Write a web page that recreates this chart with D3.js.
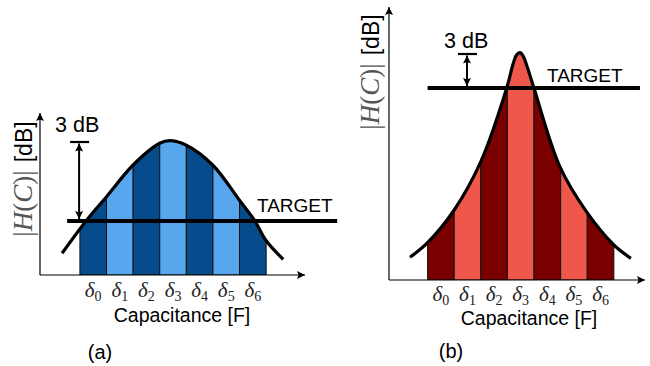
<!DOCTYPE html>
<html>
<head>
<meta charset="utf-8">
<script src="https://cdn.jsdelivr.net/npm/d3@7"></script>
<style>
  body { margin: 0; background: #fff; }
  text { font-family: "Liberation Sans", Arial, sans-serif; }
  .math { font-family: "Liberation Serif", "DejaVu Serif", serif; }
</style>
</head>
<body>
<svg id="chart" width="650" height="366"></svg>
<script>
// bins along the capacitance axis (edges) and their labels
var binEdges = [0, 1, 2, 3, 4, 5, 6, 7];
var deltaSubs = ["0", "1", "2", "3", "4", "5", "6"];

// panel (a): broad response
var curveA_C = [-0.67, 0.23, 1.0, 2.0, 3.0, 3.38, 3.98, 4.99, 5.99, 6.58, 6.98, 7.64];
var curveA_H = [2.17, 5.4, 7.83, 11.0, 13.17, 13.43, 13.0, 11.0, 7.5, 5.4, 3.5, 1.57];
var targetA = 5.4;
var peakMarkA = 13.3;

// panel (b): sharp response
var curveB_C = [-0.66, 0.0, 1.0, 2.0, 2.97, 3.22, 3.34, 3.47, 3.59, 3.72, 4.0, 4.97, 5.97, 7.0, 7.64];
var curveB_H = [2.27, 3.73, 7.0, 11.83, 19.17, 21.67, 22.5, 22.73, 22.4, 21.5, 19.17, 11.33, 6.83, 3.5, 2.17];
var targetB = 19.2;
var peakMarkB = 22.6;

var svg = d3.select("#chart");
var defs = svg.append("defs");

defs.append("marker")
  .attr("id", "arr")
  .attr("viewBox", "0 0 10 10")
  .attr("refX", 10).attr("refY", 5)
  .attr("markerUnits", "userSpaceOnUse")
  .attr("markerWidth", 10).attr("markerHeight", 8)
  .attr("orient", "auto-start-reverse")
  .append("path")
  .attr("d", "M0,0 L10,5 L0,10 L2,5 z")
  .attr("fill", "#000");

function drawPanel(p) {
  var g = svg.append("g");
  var x = d3.scaleLinear().domain(p.xDomain).range(p.xRange);
  var y = d3.scaleLinear().domain(p.yDomain).range(p.yRange);

  var pts = p.cs.map(function (c, i) { return [c, p.hs[i]]; });

  // area under the curve used as a clip for the bins
  var area = d3.area()
    .x(function (d) { return x(d[0]); })
    .y0(y(0))
    .y1(function (d) { return y(d[1]); })
    .curve(d3.curveCatmullRom.alpha(0.5));

  defs.append("clipPath").attr("id", "clip" + p.id)
    .append("path").attr("d", area(pts));

  var bins = d3.range(binEdges.length - 1);
  g.append("g").attr("clip-path", "url(#clip" + p.id + ")")
    .selectAll("rect").data(bins).enter().append("rect")
    .attr("x", function (i) { return x(binEdges[i]); })
    .attr("width", function (i) { return x(binEdges[i + 1]) - x(binEdges[i]); })
    .attr("y", y(p.yDomain[1]))
    .attr("height", y(0) - y(p.yDomain[1]))
    .attr("fill", function (i) { return i % 2 === 0 ? p.dark : p.light; })
    .attr("stroke", "#111")
    .attr("stroke-width", 1);

  // axes
  g.append("line")
    .attr("x1", x(p.xDomain[0])).attr("x2", x(p.xDomain[1]))
    .attr("y1", y(0)).attr("y2", y(0))
    .attr("stroke", "#000").attr("stroke-width", 1.2)
    .attr("marker-end", "url(#arr)");
  g.append("line")
    .attr("x1", x(p.xDomain[0])).attr("x2", x(p.xDomain[0]))
    .attr("y1", y(0)).attr("y2", y(p.yDomain[1]))
    .attr("stroke", "#000").attr("stroke-width", 1.2)
    .attr("marker-end", "url(#arr)");

  // response curve
  var line = d3.line()
    .x(function (d) { return x(d[0]); })
    .y(function (d) { return y(d[1]); })
    .curve(d3.curveCatmullRom.alpha(0.5));
  g.append("path").attr("d", line(pts))
    .attr("fill", "none").attr("stroke", "#000").attr("stroke-width", 3.2);

  // target line
  g.append("line")
    .attr("x1", x(p.targetFrom)).attr("x2", x(p.targetTo))
    .attr("y1", y(p.target)).attr("y2", y(p.target))
    .attr("stroke", "#000").attr("stroke-width", 4);
  g.append("text")
    .attr("x", p.targetLabel[0]).attr("y", p.targetLabel[1])
    .attr("font-size", 19).text("TARGET");

  // 3 dB marker
  g.append("line")
    .attr("x1", x(p.markC) - 9).attr("x2", x(p.markC) + 10)
    .attr("y1", y(p.peakMark)).attr("y2", y(p.peakMark))
    .attr("stroke", "#000").attr("stroke-width", 2.2);
  g.append("line")
    .attr("x1", x(p.markC)).attr("x2", x(p.markC))
    .attr("y1", y(p.peakMark) + 1.5).attr("y2", y(p.target) - 2)
    .attr("stroke", "#000").attr("stroke-width", 2)
    .attr("marker-start", "url(#arr)")
    .attr("marker-end", "url(#arr)");
  g.append("text")
    .attr("x", p.dbLabel[0]).attr("y", p.dbLabel[1])
    .attr("font-size", 21.5)
    .text("3 dB");

  // delta labels
  var dl = g.selectAll(".dl").data(bins).enter().append("text")
    .attr("class", "dl math")
    .attr("x", function (i) { return x((binEdges[i] + binEdges[i + 1]) / 2); })
    .attr("y", p.deltaY)
    .attr("text-anchor", "middle")
    .attr("font-size", 21)
    .attr("fill", "#222");
  dl.append("tspan").attr("font-style", "italic").text("δ");
  dl.append("tspan").attr("font-size", 14).attr("dy", 4)
    .text(function (i) { return deltaSubs[i]; });

  g.append("text")
    .attr("x", p.capLabel[0]).attr("y", p.capLabel[1])
    .attr("text-anchor", "middle").attr("font-size", 19.5)
    .text("Capacitance [F]");

  // y label
  var yl = g.append("text")
    .attr("transform", "translate(" + p.yLabel[0] + "," + p.yLabel[1] + ") rotate(-90)")
    .attr("text-anchor", "middle");
  var parts = [["|", false], ["H", true], ["(", false], ["C", true], [")", false], ["|", false]];
  parts.forEach(function (q) {
    yl.append("tspan").attr("class", "math").attr("font-size", 27)
      .attr("fill", "#555")
      .attr("font-style", q[1] ? "italic" : "normal").text(q[0]);
  });
  yl.append("tspan").attr("font-size", 23).attr("dx", 8).attr("fill", "#000").text("[dB]");

  g.append("text")
    .attr("x", p.caption[0]).attr("y", p.caption[1])
    .attr("text-anchor", "middle").attr("font-size", 20)
    .text(p.captionText);
}

drawPanel({
  id: "A", cs: curveA_C, hs: curveA_H, target: targetA, peakMark: peakMarkA,
  xDomain: [-1.5, 8.46], xRange: [40, 305],
  yDomain: [0, 16.2], yRange: [275, 113],
  dark: "#064b8c", light: "#58a6ee",
  targetFrom: -0.48, targetTo: 9.67, targetLabel: [257, 212],
  markC: -0.03, dbLabel: [55, 132],
  deltaY: 297, capLabel: [182, 322],
  yLabel: [32, 179], caption: [100, 359], captionText: "(a)"
});

drawPanel({
  id: "B", cs: curveB_C, hs: curveB_H, target: targetB, peakMark: peakMarkB,
  xDomain: [-1.45, 8.17], xRange: [389, 645],
  yDomain: [0, 27.3], yRange: [280, 7],
  dark: "#7a0000", light: "#f0574b",
  targetFrom: 0.0, targetTo: 7.98, targetLabel: [547, 82],
  markC: 1.48, dbLabel: [444, 48],
  deltaY: 301, capLabel: [529, 325],
  yLabel: [379, 72], caption: [451, 358], captionText: "(b)"
});
</script>
</body>
</html>
